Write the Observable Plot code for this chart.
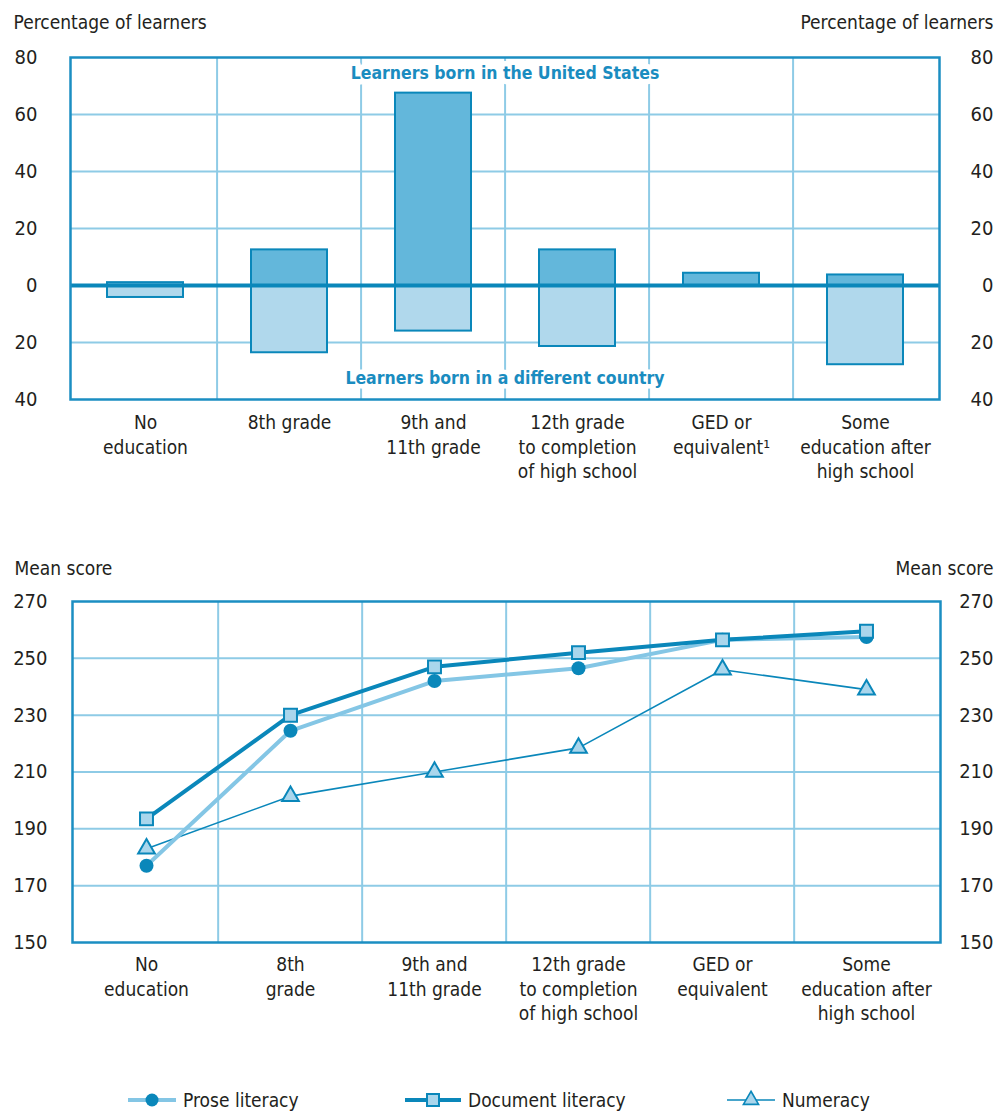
<!DOCTYPE html>
<html><head><meta charset="utf-8">
<script src="https://cdn.jsdelivr.net/npm/d3@7"></script>
<script src="https://cdn.jsdelivr.net/npm/@observablehq/plot@0.6"></script>
<style>
body{margin:0;background:#fff;}
#wrap{width:1005px;height:1113px;position:relative;overflow:hidden;font-family:"Liberation Sans Narrow","DejaVu Sans Condensed","Roboto Condensed",sans-serif;color:#231f20;}
#wrap svg{display:block;}
.leg{position:absolute;top:1088px;height:24px;display:flex;align-items:center;font-size:19px;white-space:nowrap;}
.leg svg{margin-right:7px;}
</style></head><body><div id="wrap"></div>
<script>
// ---- data ----
const categories = ["none", "g8", "g9_11", "g12", "ged", "some"];
const topLabels = ["No\neducation", "8th grade", "9th and\n11th grade", "12th grade\nto completion\nof high school", "GED or\nequivalent\u00b9", "Some\neducation after\nhigh school"];
const bottomLabels = ["No\neducation", "8th\ngrade", "9th and\n11th grade", "12th grade\nto completion\nof high school", "GED or\nequivalent", "Some\neducation after\nhigh school"];
const bornUS = [1, 12.5, 67.5, 12.5, 4.3, 3.7];
const bornAbroad = [4.2, 23.6, 16, 21.4, 0, 27.8];
const yTicksTop = [80, 60, 40, 20, 0, -20, -40];
const prose = [177, 224.5, 242, 246.5, 256.5, 257.5];
const documentLit = [193.5, 230, 247, 252, 256.5, 259.5];
const numeracy = [183, 201.5, 210, 218.5, 246, 239];
const yTicksBottom = [150, 170, 190, 210, 230, 250, 270];
const seriesNames = ["Prose literacy", "Document literacy", "Numeracy"];
const topTitle = "Percentage of learners";
const bottomTitle = "Mean score";
const usLabel = "Learners born in the United States";
const abroadLabel = "Learners born in a different country";

// ---- style ----
const FONT = '"Liberation Sans Narrow","DejaVu Sans Condensed","Roboto Condensed",sans-serif';
const frameColor = "#1b8ec2";
const gridColor = "#8ecbe6";
const darkBlue = "#0a87ba";
const barUS = "#63b7db";
const barAbroad = "#b0d8ec";
const lightLine = "#84c6e5";
const lightFill = "#aad6ec";
const textColor = "#231f20";

const wrap = document.getElementById("wrap");

// ---- top chart ----
const W = 1005;
const t = {top: 57, left: 70, right: 66, bottom: 111, height: 510};
const bwTop = (W - t.left - t.right) / categories.length;
const barRows = categories.flatMap((c, i) => [
  {cat: c, group: "us", value: bornUS[i]},
  {cat: c, group: "abroad", value: -bornAbroad[i]}
]).filter(d => d.value !== 0);

const topPlot = Plot.plot({
  width: W, height: t.height,
  marginTop: t.top, marginLeft: t.left, marginRight: t.right, marginBottom: t.bottom,
  x: {type: "band", domain: categories, padding: 0, axis: null},
  y: {domain: [-40, 80], axis: null},
  style: {fontFamily: FONT, fontSize: "19px", color: textColor, background: "white"},
  marks: [
    Plot.ruleY(yTicksTop.filter(v => v !== 0 && v !== 80 && v !== -40), {y: d => d, stroke: gridColor, strokeWidth: 2}),
    Plot.ruleX(categories.slice(1), {x: d => d, dx: -bwTop / 2, stroke: gridColor, strokeWidth: 2}),
    Plot.text([usLabel], {text: d => d, frameAnchor: "top", dy: 16, lineAnchor: "middle", fill: "#1a8cc0", fontWeight: "bold", fontSize: 17.5, stroke: "white", strokeWidth: 11}),
    Plot.text([abroadLabel], {text: d => d, frameAnchor: "bottom", dy: -21, lineAnchor: "middle", fill: "#1a8cc0", fontWeight: "bold", fontSize: 17.5, stroke: "white", strokeWidth: 9}),
    Plot.barY(barRows, {x: "cat", y: "value", fill: d => d.group === "us" ? barUS : barAbroad, stroke: darkBlue, strokeWidth: 2, insetLeft: 34, insetRight: 34}),
    Plot.ruleY([0], {stroke: darkBlue, strokeWidth: 4}),
    Plot.frame({stroke: frameColor, strokeWidth: 2.5}),
    Plot.text(yTicksTop, {y: d => d, text: d => String(Math.abs(d)), frameAnchor: "left", dx: -33, textAnchor: "end", lineAnchor: "middle", fontSize: 20, fill: textColor}),
    Plot.text(yTicksTop, {y: d => d, text: d => String(Math.abs(d)), frameAnchor: "right", dx: 54, textAnchor: "end", lineAnchor: "middle", fontSize: 20, fill: textColor}),
    Plot.text(categories, {x: d => d, text: (d, i) => topLabels[i], frameAnchor: "bottom", dy: 12, lineAnchor: "top", lineHeight: 1.3, fill: textColor}),
    Plot.text([topTitle], {text: d => d, frameAnchor: "top-left", dx: -57, dy: -35, textAnchor: "start", lineAnchor: "middle", fill: textColor}),
    Plot.text([topTitle], {text: d => d, frameAnchor: "top-right", dx: 54, dy: -35, textAnchor: "end", lineAnchor: "middle", fill: textColor})
  ]
});
wrap.appendChild(topPlot);

// ---- bottom chart ----
const b = {top: 91, left: 72, right: 65, bottom: 118, height: 550};
const bwBot = (W - b.left - b.right) / categories.length;
const rows = (vals) => categories.map((c, i) => ({cat: c, v: vals[i]}));

const botPlot = Plot.plot({
  width: W, height: b.height,
  marginTop: b.top, marginLeft: b.left, marginRight: b.right, marginBottom: b.bottom,
  x: {type: "band", domain: categories, padding: 0, axis: null},
  y: {domain: [150, 270], axis: null},
  style: {fontFamily: FONT, fontSize: "19px", color: textColor, background: "white"},
  marks: [
    Plot.ruleY(yTicksBottom.filter(v => v !== 150 && v !== 270), {y: d => d, stroke: gridColor, strokeWidth: 2}),
    Plot.ruleX(categories.slice(1), {x: d => d, dx: -bwBot / 2, stroke: gridColor, strokeWidth: 2}),
    Plot.frame({stroke: frameColor, strokeWidth: 2.5}),
    Plot.line(rows(numeracy), {x: "cat", y: "v", stroke: darkBlue, strokeWidth: 1.6}),
    Plot.line(rows(prose), {x: "cat", y: "v", stroke: lightLine, strokeWidth: 4}),
    Plot.dot(rows(prose), {x: "cat", y: "v", r: 7, fill: darkBlue, symbol: "circle"}),
    Plot.line(rows(documentLit), {x: "cat", y: "v", stroke: darkBlue, strokeWidth: 4}),
    Plot.dot(rows(documentLit), {x: "cat", y: "v", r: 7.3, fill: lightFill, stroke: darkBlue, strokeWidth: 2, symbol: "square"}),
    Plot.dot(rows(numeracy), {x: "cat", y: "v", r: 6.2, fill: lightFill, stroke: darkBlue, strokeWidth: 2, symbol: "triangle"}),
    Plot.text(yTicksBottom, {y: d => d, text: d => String(d), frameAnchor: "left", dx: -25, textAnchor: "end", lineAnchor: "middle", fontSize: 20, fill: textColor}),
    Plot.text(yTicksBottom, {y: d => d, text: d => String(d), frameAnchor: "right", dx: 53, textAnchor: "end", lineAnchor: "middle", fontSize: 20, fill: textColor}),
    Plot.text(categories, {x: d => d, text: (d, i) => bottomLabels[i], frameAnchor: "bottom", dy: 11, lineAnchor: "top", lineHeight: 1.3, fill: textColor}),
    Plot.text([bottomTitle], {text: d => d, frameAnchor: "top-left", dx: -58, dy: -33, textAnchor: "start", lineAnchor: "middle", fill: textColor}),
    Plot.text([bottomTitle], {text: d => d, frameAnchor: "top-right", dx: 53, dy: -33, textAnchor: "end", lineAnchor: "middle", fill: textColor})
  ]
});
wrap.appendChild(botPlot);

// ---- legend ----
const legendDefs = [
  {name: seriesNames[0], left: 128, w: 48, line: lightLine, lw: 4, sym: "circle"},
  {name: seriesNames[1], left: 405, w: 56, line: darkBlue, lw: 4, sym: "square"},
  {name: seriesNames[2], left: 727, w: 48, line: darkBlue, lw: 1.6, sym: "triangle"}
];
legendDefs.forEach(d => {
  const item = document.createElement("div");
  item.className = "leg";
  item.style.left = d.left + "px";
  const cx = d.w / 2;
  const svg = d3.create("svg").attr("width", d.w).attr("height", 24);
  svg.append("line").attr("x1", 0).attr("x2", d.w).attr("y1", 12).attr("y2", 12)
    .attr("stroke", d.line).attr("stroke-width", d.lw);
  if (d.sym === "circle") {
    svg.append("circle").attr("cx", cx).attr("cy", 12).attr("r", 6.5).attr("fill", darkBlue);
  } else if (d.sym === "square") {
    svg.append("rect").attr("x", cx - 6).attr("y", 6).attr("width", 12).attr("height", 12)
      .attr("fill", lightFill).attr("stroke", darkBlue).attr("stroke-width", 2);
  } else {
    svg.append("path").attr("d", d3.symbol(d3.symbolTriangle, 100)()).attr("transform", `translate(${cx},12)`)
      .attr("fill", lightFill).attr("stroke", darkBlue).attr("stroke-width", 1.6);
  }
  item.appendChild(svg.node());
  const span = document.createElement("span");
  span.textContent = d.name;
  item.appendChild(span);
  wrap.appendChild(item);
});
</script>
</body></html>
